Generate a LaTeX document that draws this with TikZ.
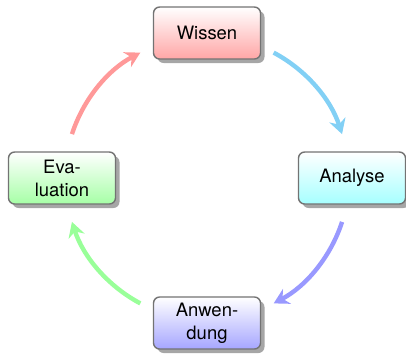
\documentclass[tikz,border=0pt]{standalone}
\usepackage{fontspec}
\setmainfont{TeX Gyre Heros}
\usetikzlibrary{arrows.meta,shadows,calc}
\definecolor{himmel}{RGB}{130,208,245}

\begin{document}
\begin{tikzpicture}[
    every node/.style={font=\fontsize{10.5}{13}\selectfont},
    modul/.style={draw=black!55, line width=0.8pt, rounded corners=3.5pt,
      minimum width=2.14cm, minimum height=1.04cm, align=center,
      top color=white, bottom color=#1!35,
      drop shadow={shadow xshift=0.08cm, shadow yshift=-0.08cm, fill=black!35, opacity=1}},
    pfeil/.style={draw=#1, line width=2.5pt, -{Stealth[length=8.5pt,width=9.5pt,inset=2.8pt]}}]
  \useasboundingbox (0,0) rectangle (8.12,-7.06);
  \coordinate (mitte) at (4.14,-3.56);

  % Module
  \node[modul=red]   (wissen)     at ($(mitte)+(90:2.9)$)  {Wissen};
  \node[modul=cyan]  (analyse)    at ($(mitte)+(0:2.9)$)   {Analyse};
  \node[modul=blue]  (anwendung)  at ($(mitte)+(-90:2.9)$) {Anwen-\\dung};
  \node[modul=green] (evaluation) at ($(mitte)+(180:2.9)$) {Eva-\\luation};

  % Pfeile im Kreis
  \foreach \a/\f in {62/himmel, -18/blue!40, -118/green!40, 162/red!40} {
    \path (mitte) ++(\a:2.84) coordinate (p\a);
    \draw[pfeil=\f] (p\a) arc[start angle=\a, end angle=\a-44, radius=2.84];
  }
\end{tikzpicture}
\end{document}
